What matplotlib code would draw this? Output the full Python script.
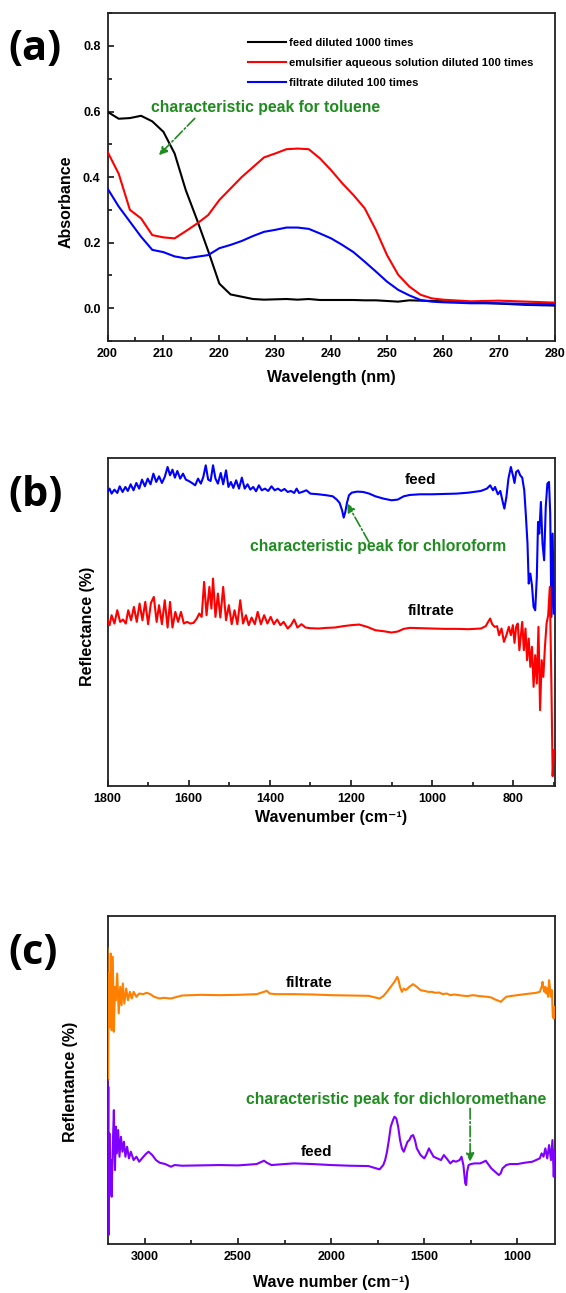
import matplotlib
matplotlib.use('Agg')
import matplotlib.pyplot as plt
from matplotlib.ticker import MultipleLocator, NullLocator

plt.rcParams['font.family'] = ['Liberation Sans', 'DejaVu Sans']
plt.rcParams['font.weight'] = 'bold'
plt.rcParams['axes.labelweight'] = 'bold'

# ---------------- (a) UV-vis ----------------
uv_x = [200, 202, 204, 206, 208, 210, 212, 214, 216, 218, 220, 222, 224, 226, 228,
        230, 232, 234, 236, 238, 240, 242, 244, 246, 248, 250, 252, 254, 256, 258,
        260, 265, 270, 275, 280]
uv_feed = [0.599, 0.578, 0.580, 0.587, 0.570, 0.538, 0.472, 0.360, 0.270, 0.175, 0.075,
           0.042, 0.035, 0.028, 0.026, 0.027, 0.028, 0.026, 0.028, 0.025, 0.025, 0.025,
           0.025, 0.024, 0.024, 0.022, 0.020, 0.024, 0.023, 0.022, 0.021, 0.018, 0.014,
           0.010, 0.008]
uv_emul = [0.477, 0.410, 0.300, 0.274, 0.223, 0.216, 0.213, 0.235, 0.258, 0.284, 0.330,
           0.365, 0.400, 0.430, 0.460, 0.472, 0.485, 0.487, 0.485, 0.457, 0.421, 0.381,
           0.345, 0.305, 0.239, 0.162, 0.102, 0.066, 0.041, 0.030, 0.026, 0.021, 0.023,
           0.020, 0.017]
uv_filt = [0.365, 0.310, 0.264, 0.218, 0.178, 0.171, 0.158, 0.152, 0.157, 0.162, 0.183,
           0.193, 0.205, 0.220, 0.233, 0.239, 0.246, 0.246, 0.242, 0.228, 0.213, 0.193,
           0.171, 0.142, 0.112, 0.081, 0.056, 0.039, 0.025, 0.020, 0.018, 0.015, 0.015,
           0.013, 0.012]
uv_labels = ['feed diluted 1000 times',
             'emulsifier aqueous solution diluted 100 times',
             'filtrate diluted 100 times']

# ---------------- (b) reflectance, chloroform ----------------
b_feed_x = [1800, 1795, 1790, 1783, 1776, 1770, 1763, 1756, 1750, 1743, 1736, 1729, 1722,
            1715, 1708, 1701, 1694, 1687, 1680, 1673, 1666, 1659, 1652, 1646, 1640, 1634,
            1628, 1621, 1614, 1607, 1600, 1592, 1584, 1577, 1570, 1564, 1558, 1552, 1546,
            1540, 1534, 1528, 1521, 1515, 1508, 1502, 1496, 1490, 1483, 1476, 1469, 1462,
            1455, 1448, 1441, 1434, 1427, 1420, 1412, 1404, 1396, 1388, 1380, 1372, 1364,
            1356, 1348, 1340, 1334, 1328, 1318, 1310, 1300, 1280, 1260, 1245, 1235, 1228,
            1222, 1218, 1214, 1210, 1205, 1198, 1185, 1170, 1155, 1140, 1120, 1100, 1085,
            1070, 1055, 1030, 1000, 970, 940, 910, 880, 865, 857, 850, 845, 838, 832, 826,
            822, 817, 812, 806, 801, 797, 793, 788, 783, 778, 773, 769, 765, 762, 758, 754,
            750, 746, 742, 739, 736, 732, 728, 724, 720, 716, 712, 709, 706, 703, 700]
b_feed = [88.5, 89.5, 88.0, 89.2, 88.2, 90.2, 88.5, 90.0, 88.8, 90.8, 89.0, 91.2, 89.5,
          92.2, 90.2, 92.5, 90.8, 94.0, 91.5, 93.2, 91.2, 93.0, 96.0, 93.5, 95.2, 92.8,
          94.8, 92.5, 94.0, 92.2, 91.8, 91.2, 90.5, 92.5, 91.0, 93.0, 96.5, 92.2, 91.8,
          96.5, 92.5, 91.0, 94.2, 90.8, 95.0, 90.0, 91.5, 89.7, 92.0, 89.5, 92.8, 89.5,
          90.8, 89.2, 90.0, 88.7, 90.5, 89.0, 89.5, 88.8, 90.2, 89.0, 89.5, 88.8, 89.4,
          88.5, 88.8, 88.2, 89.5, 88.2, 88.6, 89.0, 88.0, 87.8, 87.5, 87.2, 86.2, 85.2,
          83.0, 80.8, 82.5, 85.2, 87.5, 88.3, 88.6, 88.5, 88.0, 87.2, 86.5, 86.0, 86.2,
          87.2, 87.6, 87.8, 87.8, 87.9, 88.0, 88.3, 88.8, 89.5, 90.5, 89.0, 90.0, 87.8,
          88.8, 85.5, 83.5, 87.0, 92.5, 96.0, 93.5, 91.2, 94.5, 95.0, 93.5, 92.8, 89.0,
          81.5, 73.0, 61.0, 64.0, 60.5, 54.0, 53.0, 63.0, 79.5, 76.0, 85.5, 73.0, 68.0,
          84.0, 91.0, 91.5, 82.0, 51.0, 76.0, 52.0]
b_filt_x = [1800, 1795, 1790, 1783, 1776, 1769, 1762, 1755, 1749, 1742, 1735, 1728, 1721,
            1714, 1707, 1700, 1693, 1686, 1679, 1673, 1666, 1659, 1652, 1646, 1640, 1633,
            1626, 1619, 1612, 1604, 1596, 1588, 1580, 1574, 1568, 1562, 1556, 1549, 1544,
            1540, 1534, 1528, 1522, 1515, 1508, 1501, 1494, 1487, 1480, 1473, 1466, 1459,
            1452, 1445, 1437, 1430, 1422, 1414, 1406, 1398, 1390, 1382, 1374, 1366, 1356,
            1348, 1340, 1332, 1322, 1312, 1300, 1280, 1260, 1240, 1220, 1200, 1180, 1160,
            1140, 1120, 1100, 1085, 1070, 1055, 1030, 1000, 970, 940, 910, 880, 868, 862,
            857, 852, 846, 840, 835, 829, 823, 817, 811, 806, 801, 797, 793, 789, 785, 781,
            778, 774, 770, 766, 762, 758, 754, 750, 746, 742, 738, 734, 730, 726, 722, 718,
            714, 710, 706, 703, 700]
b_filt = [50.0, 48.5, 51.5, 49.0, 53.0, 49.5, 50.2, 49.0, 53.0, 50.0, 54.0, 49.5, 55.0,
          50.0, 55.5, 48.8, 55.2, 57.0, 49.5, 54.5, 48.8, 56.0, 47.8, 55.5, 47.8, 52.5,
          49.5, 52.5, 49.0, 49.5, 49.0, 49.2, 50.5, 52.0, 51.0, 61.5, 51.5, 60.0, 53.5,
          62.5, 51.0, 58.0, 50.8, 60.0, 50.0, 54.5, 48.8, 53.0, 48.8, 56.0, 49.0, 51.5,
          48.5, 50.8, 48.8, 52.5, 48.8, 51.5, 49.0, 51.0, 48.8, 50.2, 48.5, 49.5, 47.5,
          48.5, 50.2, 47.8, 48.8, 47.8, 47.6, 47.5, 47.7, 47.8, 48.2, 48.5, 48.7, 48.0,
          47.0, 46.7, 46.3, 46.6, 47.4, 47.7, 47.6, 47.5, 47.4, 47.4, 47.3, 47.5, 48.2,
          49.5, 50.5, 48.8, 48.0, 48.2, 45.5, 47.5, 43.5, 45.5, 48.0, 45.5, 48.5, 43.2,
          48.0, 49.0, 41.0, 46.0, 49.5, 41.0, 47.5, 38.0, 44.5, 36.0, 42.0, 30.0, 39.5,
          31.0, 48.0, 23.0, 38.0, 33.0, 42.0, 49.0, 51.5, 60.0, 30.0, 3.2, 11.0]

# ---------------- (c) reflectance, dichloromethane ----------------
c_filt_x = [3200, 3197, 3193, 3188, 3183, 3178, 3172, 3166, 3160, 3155, 3148, 3140, 3132,
            3125, 3118, 3110, 3100, 3090, 3080, 3070, 3060, 3045, 3030, 3010, 2990, 2970,
            2950, 2920, 2900, 2860, 2800, 2700, 2600, 2500, 2400, 2360, 2345, 2330, 2300,
            2200, 2100, 2000, 1900, 1800, 1740, 1720, 1700, 1680, 1660, 1645, 1638, 1630,
            1620, 1610, 1600, 1580, 1560, 1540, 1520, 1500, 1480, 1460, 1440, 1420, 1400,
            1380, 1360, 1340, 1300, 1270, 1240, 1200, 1160, 1140, 1120, 1100, 1090, 1080,
            1060, 1040, 1000, 960, 930, 900, 880, 870, 865, 860, 855, 850, 845, 840, 835,
            830, 825, 820, 815, 810, 805, 800]
c_filt = [89.5, 50.0, 82.0, 66.0, 88.0, 65.0, 87.0, 64.5, 78.0, 74.0, 82.0, 70.0, 78.0,
          72.5, 79.0, 73.0, 77.5, 74.0, 76.5, 74.5, 76.5, 75.0, 76.0, 75.8, 76.2, 75.8,
          75.0, 74.5, 74.7, 74.5, 75.4, 75.6, 75.5, 75.6, 75.8, 76.5, 76.8, 76.0, 75.8,
          75.8, 75.7, 75.5, 75.4, 75.3, 74.5, 75.2, 76.5, 78.0, 79.5, 81.0, 80.0, 78.0,
          76.5, 77.5, 77.0, 78.0, 78.8, 78.0, 77.0, 76.8, 76.5, 76.5, 76.2, 76.3, 75.8,
          76.0, 75.5, 75.7, 75.4, 75.2, 75.5, 75.2, 75.0, 74.8, 74.2, 73.8, 73.5, 74.0,
          75.0, 75.2, 75.5, 75.8, 76.0, 76.2, 76.5, 78.0, 79.5, 77.5, 76.5, 78.0, 76.0,
          77.5, 75.0, 80.0, 77.5, 75.0, 77.0, 69.0, 68.5, 72.0]
c_feed_x = [3200, 3198, 3196, 3194, 3190, 3186, 3182, 3178, 3172, 3166, 3160, 3155, 3150,
            3143, 3136, 3128, 3120, 3112, 3104, 3095, 3085, 3075, 3060, 3045, 3030, 3015,
            2995, 2980, 2960, 2940, 2920, 2890, 2860, 2840, 2800, 2700, 2600, 2500, 2400,
            2360, 2345, 2320, 2250, 2200, 2100, 2000, 1900, 1800, 1740, 1720, 1710, 1700,
            1690, 1680, 1668, 1660, 1650, 1640, 1630, 1620, 1610, 1600, 1590, 1580, 1570,
            1560, 1550, 1540, 1530, 1520, 1510, 1500, 1490, 1475, 1465, 1450, 1430, 1410,
            1395, 1380, 1360, 1345, 1330, 1310, 1300, 1290, 1280, 1275, 1270, 1262, 1250,
            1230, 1200, 1180, 1170, 1160, 1140, 1120, 1100, 1090, 1080, 1060, 1040, 1000,
            960, 920, 900, 880, 870, 860, 850, 840, 830, 820, 812, 805, 800]
c_feed = [50.0, 20.0, 48.0, 3.5, 34.0, 16.0, 26.0, 15.0, 30.0, 41.0, 23.0, 36.0, 28.0,
          35.0, 27.0, 33.0, 28.5, 31.5, 27.0, 30.0, 26.5, 28.5, 26.0, 27.0, 25.5, 26.5,
          27.8, 28.5, 27.5, 26.0, 25.2, 24.8, 24.0, 24.5, 24.3, 24.4, 24.5, 24.4, 24.8,
          25.8, 25.2, 24.5, 24.8, 25.0, 24.8, 24.5, 24.3, 24.2, 23.2, 24.5, 26.0, 28.5,
          32.0, 36.0, 38.0, 39.0, 38.5, 36.0, 32.0, 29.5, 28.5, 30.0, 31.5, 32.0, 33.2,
          33.5, 32.0, 29.5, 28.5, 27.5, 27.0, 26.5, 27.5, 29.5, 28.5, 27.0, 26.5, 26.0,
          27.5, 26.5, 25.0, 25.8, 25.5, 26.0, 27.0, 24.5, 19.0, 18.5, 22.5, 24.5, 24.8,
          25.0, 25.0, 25.5, 25.8, 25.0, 23.5, 22.5, 21.5, 22.0, 23.5, 24.5, 24.8, 24.8,
          25.2, 25.5, 26.0, 26.5, 28.0, 27.0, 29.5, 26.5, 30.5, 26.0, 32.0, 21.0, 29.0]

green = '#1e8c1e'

fig = plt.figure(figsize=(5.66, 12.93), dpi=100)
ax_a = fig.add_axes([0.190, 0.7363, 0.790, 0.2535])
ax_b = fig.add_axes([0.190, 0.3923, 0.790, 0.2535])
ax_c = fig.add_axes([0.190, 0.0379, 0.790, 0.2535])

for ax in (ax_a, ax_b, ax_c):
    for s in ax.spines.values():
        s.set_linewidth(1.3)
        s.set_color('#222222')
    ax.tick_params(which='both', direction='in', top=False, right=False,
                   labelsize=9, width=1.1, pad=5)
    ax.tick_params(which='major', length=4.5)
    ax.tick_params(which='minor', length=3)

# (a)
ax_a.plot(uv_x, uv_feed, color='black', lw=1.5, label=uv_labels[0], zorder=3)
ax_a.plot(uv_x, uv_emul, color='#ff0000', lw=1.5, label=uv_labels[1], zorder=3)
ax_a.plot(uv_x, uv_filt, color='#0000ff', lw=1.5, label=uv_labels[2], zorder=3)
ax_a.set_xlim(200, 280)
ax_a.set_ylim(-0.1, 0.9)
ax_a.xaxis.set_major_locator(MultipleLocator(10))
ax_a.xaxis.set_minor_locator(MultipleLocator(5))
ax_a.yaxis.set_major_locator(MultipleLocator(0.2))
ax_a.yaxis.set_minor_locator(MultipleLocator(0.1))
ax_a.set_xlabel('Wavelength (nm)', fontsize=11.5)
ax_a.set_ylabel('Absorbance', fontsize=11.5)
ax_a.xaxis.set_label_coords(0.5, -0.088)
ax_a.yaxis.set_label_coords(-0.076, 0.425)
ax_a.legend(loc='upper left', bbox_to_anchor=(0.315, 0.923), frameon=False,
            borderpad=0, borderaxespad=0, handlelength=3.3, handletextpad=0.32,
            labelspacing=0.85, prop={'size': 8.1, 'weight': 'bold'})
ax_a.text(207.7, 0.611, 'characteristic peak for toluene', color=green,
          fontsize=11.3, fontweight='bold', va='center', ha='left')
ax_a.annotate('', xy=(209.2, 0.467), xytext=(215.6, 0.579),
              arrowprops=dict(arrowstyle='-|>', linestyle='-.', color=green,
                              lw=1.2, mutation_scale=12, shrinkA=0, shrinkB=0))

# (b)
ax_b.plot(b_feed_x, b_feed, color='#0000ff', lw=1.5, zorder=3)
ax_b.plot(b_filt_x, b_filt, color='#ff0000', lw=1.5, zorder=3)
ax_b.set_xlim(1800, 698)
ax_b.set_ylim(0.3, 98.7)
ax_b.xaxis.set_major_locator(MultipleLocator(200))
ax_b.xaxis.set_minor_locator(MultipleLocator(100))
ax_b.yaxis.set_major_locator(NullLocator())
ax_b.set_xlabel('Wavenumber (cm⁻¹)', fontsize=11.5)
ax_b.set_ylabel('Reflectance (%)', fontsize=11.5)
ax_b.xaxis.set_label_coords(0.5, -0.073)
ax_b.yaxis.set_label_coords(-0.029, 0.485)
ax_b.text(1029, 92, 'feed', fontsize=11, fontweight='bold', ha='center', va='center')
ax_b.text(1002, 52.7, 'filtrate', fontsize=11, fontweight='bold', ha='center', va='center')
ax_b.text(1449.5, 72, 'characteristic peak for chloroform', color=green,
          fontsize=11.3, fontweight='bold', va='center', ha='left')
ax_b.annotate('', xy=(1209, 85), xytext=(1156, 73.5),
              arrowprops=dict(arrowstyle='-|>', linestyle='-.', color=green,
                              lw=1.2, mutation_scale=12, shrinkA=0, shrinkB=0))

# (c)
ax_c.plot(c_filt_x, c_filt, color='#ff8000', lw=1.5, zorder=3)
ax_c.plot(c_feed_x, c_feed, color='#8000ff', lw=1.5, zorder=3)
ax_c.set_xlim(3200, 800)
ax_c.set_ylim(0.8, 99.2)
ax_c.xaxis.set_major_locator(MultipleLocator(500))
ax_c.xaxis.set_minor_locator(MultipleLocator(250))
ax_c.yaxis.set_major_locator(NullLocator())
ax_c.set_xlabel('Wave number (cm⁻¹)', fontsize=11.5)
ax_c.set_ylabel('Reflentance (%)', fontsize=11.5)
ax_c.xaxis.set_label_coords(0.5, -0.094)
ax_c.yaxis.set_label_coords(-0.067, 0.495)
ax_c.text(2120, 79.2, 'filtrate', fontsize=11, fontweight='bold', ha='center', va='center')
ax_c.text(2081, 28.3, 'feed', fontsize=11, fontweight='bold', ha='center', va='center')
ax_c.text(2456, 44.2, 'characteristic peak for dichloromethane', color=green,
          fontsize=11.3, fontweight='bold', va='center', ha='left')
ax_c.annotate('', xy=(1254, 25.5), xytext=(1254, 41.5),
              arrowprops=dict(arrowstyle='-|>', linestyle='-.', color=green,
                              lw=1.2, mutation_scale=12, shrinkA=0, shrinkB=0))

# panel letters
for lab, y in (('(a)', 0.962), ('(b)', 0.6166), ('(c)', 0.2622)):
    fig.text(0.015, y, lab, fontsize=30, fontweight='bold',
             family=['Open Sans', 'DejaVu Sans'], ha='left', va='center')

fig.savefig('out.png', dpi=100)
